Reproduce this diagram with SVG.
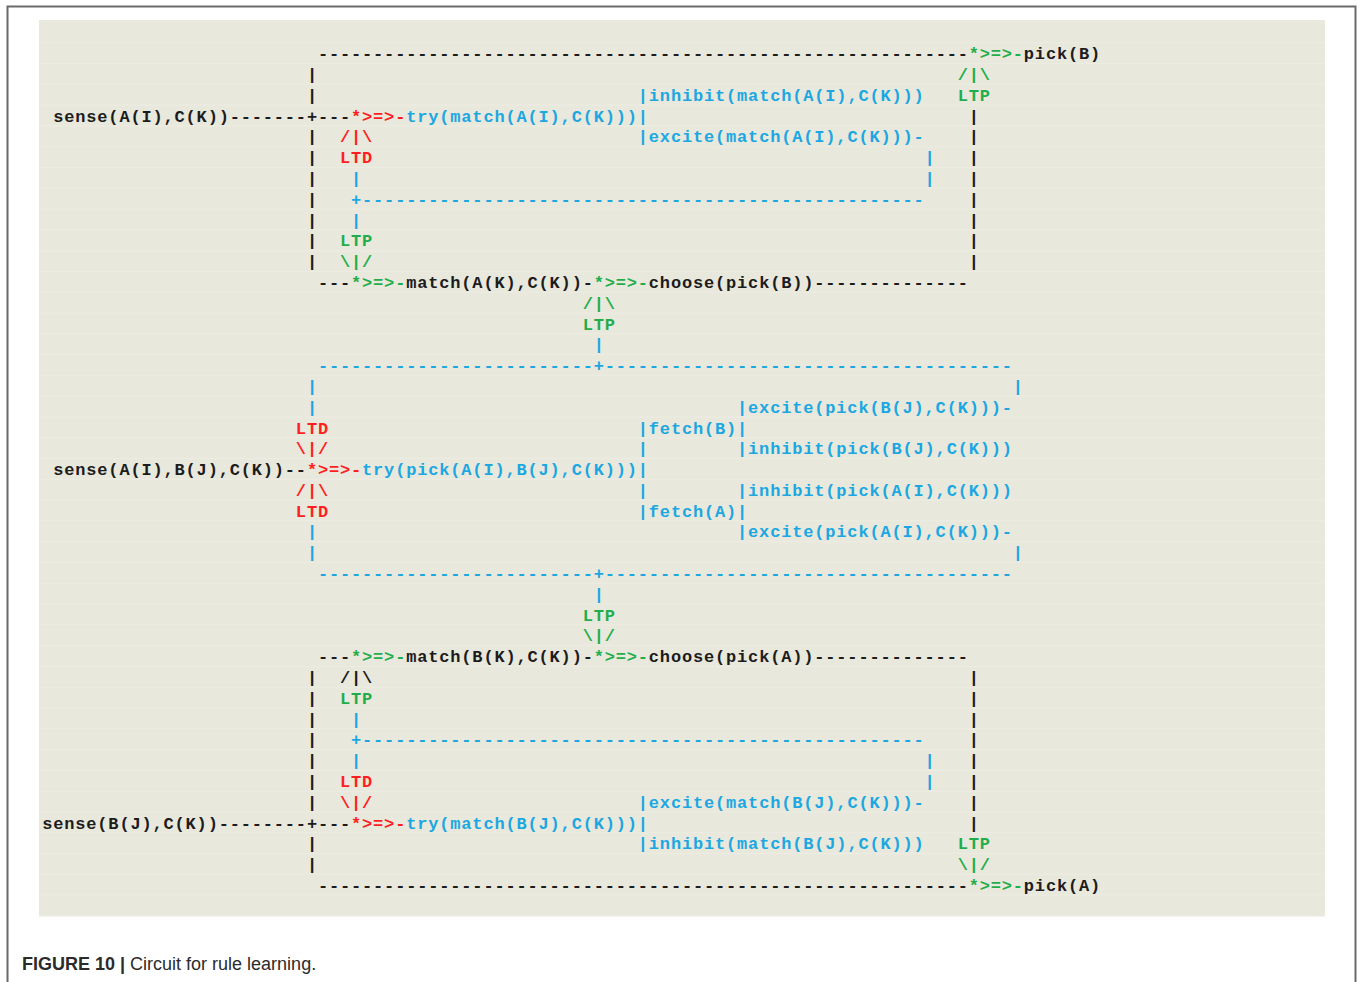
<svg xmlns="http://www.w3.org/2000/svg" width="1360" height="982" viewBox="0 0 1360 982">
<defs>
<style>
.t{font-family:"Liberation Mono","DejaVu Sans Mono",monospace;font-size:17px;font-weight:bold;letter-spacing:0.83px}
.k{fill:#1c1c1c}.r{fill:#ff1e1e}.g{fill:#1fae4b}.b{fill:#1ba7e2}
.cap{font-family:"Liberation Sans",Arial,sans-serif;font-size:18px;fill:#2b2b2b}
</style>
<pattern id="stripes" x="0" y="42.2" width="20" height="20.79" patternUnits="userSpaceOnUse">
<rect x="0" y="0" width="20" height="1" fill="#edece3"/>
</pattern>
</defs>
<rect width="1360" height="982" fill="#ffffff"/>
<path d="M7.5 982V6.5H1355.5V982" fill="none" stroke="#6a6a6a" stroke-width="2"/>
<rect x="39" y="20" width="1286" height="896.5" fill="#e9e8dc"/>
<rect x="39" y="20" width="1286" height="896.5" fill="url(#stripes)"/>

<g id="connectors" class="t">
<!-- black dash lines -->
<text class="k" x="317.92" y="59.3">-----------------------------------------------------------</text>
<text class="k" x="229.68" y="121.67">-------+---</text>
<text class="k" x="317.92" y="287.99">---</text>
<text class="k" x="582.64" y="287.99">-</text>
<text class="k" x="814.27" y="287.99">--------------</text>
<text class="k" x="284.83" y="475.1">--</text>
<text class="k" x="317.92" y="662.21">---</text>
<text class="k" x="582.64" y="662.21">-</text>
<text class="k" x="814.27" y="662.21">--------------</text>
<text class="k" x="218.65" y="828.53">--------+---</text>
<text class="k" x="317.92" y="890.9">-----------------------------------------------------------</text>
<!-- black vertical bars -->
<text class="k"><tspan x="306.89" y="80.09">|</tspan><tspan x="306.89" y="100.88">|</tspan><tspan x="306.89" y="142.46">|</tspan><tspan x="306.89" y="163.25">|</tspan><tspan x="306.89" y="184.04">|</tspan><tspan x="306.89" y="204.83">|</tspan><tspan x="306.89" y="225.62">|</tspan><tspan x="306.89" y="246.41">|</tspan><tspan x="306.89" y="267.2">|</tspan></text>
<text class="k"><tspan x="306.89" y="683">|</tspan><tspan x="306.89" y="703.79">|</tspan><tspan x="306.89" y="724.58">|</tspan><tspan x="306.89" y="745.37">|</tspan><tspan x="306.89" y="766.16">|</tspan><tspan x="306.89" y="786.95">|</tspan><tspan x="306.89" y="807.74">|</tspan><tspan x="306.89" y="849.32">|</tspan><tspan x="306.89" y="870.11">|</tspan></text>
<text class="k"><tspan x="968.69" y="121.67">|</tspan><tspan x="968.69" y="142.46">|</tspan><tspan x="968.69" y="163.25">|</tspan><tspan x="968.69" y="184.04">|</tspan><tspan x="968.69" y="204.83">|</tspan><tspan x="968.69" y="225.62">|</tspan><tspan x="968.69" y="246.41">|</tspan><tspan x="968.69" y="267.2">|</tspan></text>
<text class="k"><tspan x="968.69" y="683">|</tspan><tspan x="968.69" y="703.79">|</tspan><tspan x="968.69" y="724.58">|</tspan><tspan x="968.69" y="745.37">|</tspan><tspan x="968.69" y="766.16">|</tspan><tspan x="968.69" y="786.95">|</tspan><tspan x="968.69" y="807.74">|</tspan><tspan x="968.69" y="828.53">|</tspan></text>
<!-- blue feedback lines -->
<text class="b" x="351.01" y="204.83">+---------------------------------------------------</text>
<text class="b" x="351.01" y="745.37">+---------------------------------------------------</text>
<text class="b"><tspan x="351.01" y="184.04">|</tspan><tspan x="351.01" y="225.62">|</tspan><tspan x="351.01" y="724.58">|</tspan><tspan x="351.01" y="766.16">|</tspan></text>
<text class="b"><tspan x="924.57" y="163.25">|</tspan><tspan x="924.57" y="184.04">|</tspan><tspan x="924.57" y="766.16">|</tspan><tspan x="924.57" y="786.95">|</tspan></text>
<text class="b" x="317.92" y="371.15">-------------------------+-------------------------------------</text>
<text class="b" x="317.92" y="579.05">-------------------------+-------------------------------------</text>
<text class="b"><tspan x="593.67" y="350.36">|</tspan><tspan x="593.67" y="599.84">|</tspan></text>
<text class="b"><tspan x="306.89" y="391.94">|</tspan><tspan x="306.89" y="412.73">|</tspan><tspan x="306.89" y="537.47">|</tspan><tspan x="306.89" y="558.26">|</tspan></text>
<text class="b"><tspan x="1012.81" y="391.94">|</tspan><tspan x="1012.81" y="558.26">|</tspan></text>
<text class="b"><tspan x="637.79" y="454.31">|</tspan><tspan x="637.79" y="495.89">|</tspan></text>
<!-- synapses -->
<text class="g" x="968.69" y="59.3">*&gt;=&gt;-</text>
<text class="r" x="351.01" y="121.67">*&gt;=&gt;-</text>
<text class="g" x="351.01" y="287.99">*&gt;=&gt;-</text>
<text class="g" x="593.67" y="287.99">*&gt;=&gt;-</text>
<text class="r" x="306.89" y="475.1">*&gt;=&gt;-</text>
<text class="g" x="351.01" y="662.21">*&gt;=&gt;-</text>
<text class="g" x="593.67" y="662.21">*&gt;=&gt;-</text>
<text class="r" x="351.01" y="828.53">*&gt;=&gt;-</text>
<text class="g" x="968.69" y="890.9">*&gt;=&gt;-</text>
</g>

<g id="plasticity" class="t">
<text class="g" x="957.66" y="80.09">/|\</text>
<text class="g" x="957.66" y="100.88">LTP</text>
<text class="r" x="339.98" y="142.46">/|\</text>
<text class="r" x="339.98" y="163.25">LTD</text>
<text class="g" x="339.98" y="246.41">LTP</text>
<text class="g" x="339.98" y="267.2">\|/</text>
<text class="g" x="582.64" y="308.78">/|\</text>
<text class="g" x="582.64" y="329.57">LTP</text>
<text class="r" x="295.86" y="433.52">LTD</text>
<text class="r" x="295.86" y="454.31">\|/</text>
<text class="r" x="295.86" y="495.89">/|\</text>
<text class="r" x="295.86" y="516.68">LTD</text>
<text class="g" x="582.64" y="620.63">LTP</text>
<text class="g" x="582.64" y="641.42">\|/</text>
<text class="k" x="339.98" y="683">/|\</text>
<text class="g" x="339.98" y="703.79">LTP</text>
<text class="r" x="339.98" y="786.95">LTD</text>
<text class="r" x="339.98" y="807.74">\|/</text>
<text class="g" x="957.66" y="849.32">LTP</text>
<text class="g" x="957.66" y="870.11">\|/</text>
</g>

<g id="rule-A" class="t">
<text id="sense-AI-CK" class="k" x="53.2" y="121.67">sense(A(I),C(K))</text>
<text id="try-match-AI-CK" class="b" x="406.16" y="121.67">try(match(A(I),C(K)))|</text>
<text id="inhibit-match-AI-CK" class="b" x="637.79" y="100.88">|inhibit(match(A(I),C(K)))</text>
<text id="excite-match-AI-CK" class="b" x="637.79" y="142.46">|excite(match(A(I),C(K)))-</text>
<text id="match-AK-CK" class="k" x="406.16" y="287.99">match(A(K),C(K))</text>
<text id="choose-pick-B" class="k" x="648.82" y="287.99">choose(pick(B))</text>
<text id="pick-B" class="k" x="1023.84" y="59.3">pick(B)</text>
</g>

<g id="pick-stage" class="t">
<text id="sense-AI-BJ-CK" class="k" x="53.2" y="475.1">sense(A(I),B(J),C(K))</text>
<text id="try-pick" class="b" x="362.04" y="475.1">try(pick(A(I),B(J),C(K)))|</text>
<text id="fetch-B" class="b" x="637.79" y="433.52">|fetch(B)|</text>
<text id="fetch-A" class="b" x="637.79" y="516.68">|fetch(A)|</text>
<text id="excite-pick-BJ-CK" class="b" x="737.06" y="412.73">|excite(pick(B(J),C(K)))-</text>
<text id="inhibit-pick-BJ-CK" class="b" x="737.06" y="454.31">|inhibit(pick(B(J),C(K)))</text>
<text id="inhibit-pick-AI-CK" class="b" x="737.06" y="495.89">|inhibit(pick(A(I),C(K)))</text>
<text id="excite-pick-AI-CK" class="b" x="737.06" y="537.47">|excite(pick(A(I),C(K)))-</text>
</g>

<g id="rule-B" class="t">
<text id="match-BK-CK" class="k" x="406.16" y="662.21">match(B(K),C(K))</text>
<text id="choose-pick-A" class="k" x="648.82" y="662.21">choose(pick(A))</text>
<text id="excite-match-BJ-CK" class="b" x="637.79" y="807.74">|excite(match(B(J),C(K)))-</text>
<text id="sense-BJ-CK" class="k" x="42.17" y="828.53">sense(B(J),C(K))</text>
<text id="try-match-BJ-CK" class="b" x="406.16" y="828.53">try(match(B(J),C(K)))|</text>
<text id="inhibit-match-BJ-CK" class="b" x="637.79" y="849.32">|inhibit(match(B(J),C(K)))</text>
<text id="pick-A" class="k" x="1023.84" y="890.9">pick(A)</text>
</g>

<g id="caption">
<text class="cap" x="22" y="969.5"><tspan font-weight="bold">FIGURE 10 |</tspan> Circuit for rule learning.</text>
</g>
</svg>
